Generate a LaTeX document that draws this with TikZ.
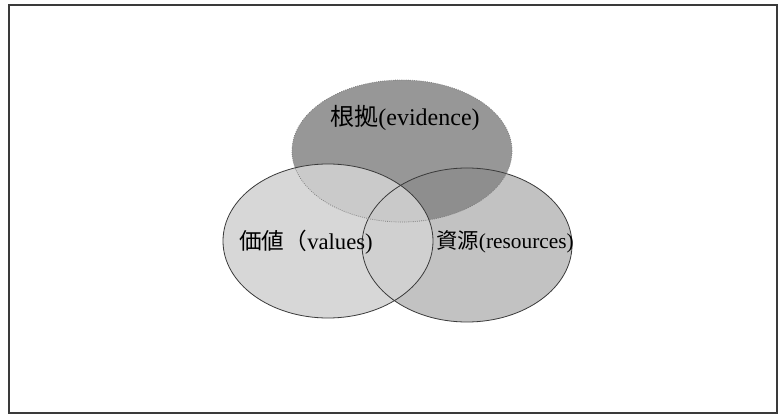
\documentclass[tikz,border=0pt]{standalone}
\usepackage{fontspec}
\setmainfont{Liberation Serif}
\newfontfamily\cjk{Noto Sans CJK JP}

\begin{document}
\begin{tikzpicture}[x=0.75pt,y=-0.75pt]

% Colori
\definecolor{colEvid}{HTML}{858585}
\definecolor{colVal}{HTML}{D2D2D2}
\definecolor{colRis}{HTML}{C2C2C2}
\definecolor{lineGray}{HTML}{3A3A3A}

\tikzset{
  etichetta/.style={font=\fontsize{17}{19}\selectfont, inner sep=0pt},
  bordo/.style={draw=lineGray, line width=0.6pt}
}

% Cornice
\useasboundingbox (0,0) rectangle (779,417);
\draw[lineGray, line width=1.1pt] (9,5) rectangle (777,413);

% Insiemi: risorse, evidenze, valori
\fill[colRis] (467,245) ellipse[x radius=105, y radius=77];
\fill[colEvid, fill opacity=0.85] (402,151) ellipse[x radius=110, y radius=71];
\fill[colVal, fill opacity=0.88] (328,241) ellipse[x radius=105, y radius=77];

% Contorni
\draw[bordo] (467,245) ellipse[x radius=105, y radius=77];
\draw[bordo, draw=gray, densely dotted] (402,151) ellipse[x radius=110, y radius=71];
\draw[bordo] (328,241) ellipse[x radius=105, y radius=77];

% Etichette
\node[etichetta, font=\fontsize{18}{20}\selectfont] (evid) at (405,118) {{\cjk 根拠}(evidence)};
\node[etichetta] (val) at (306,242) {{\cjk 価値（}values)};
\node[etichetta, font=\fontsize{16}{18}\selectfont] (ris) at (505,242) {{\cjk 資源}(resources)};

\end{tikzpicture}
\end{document}
